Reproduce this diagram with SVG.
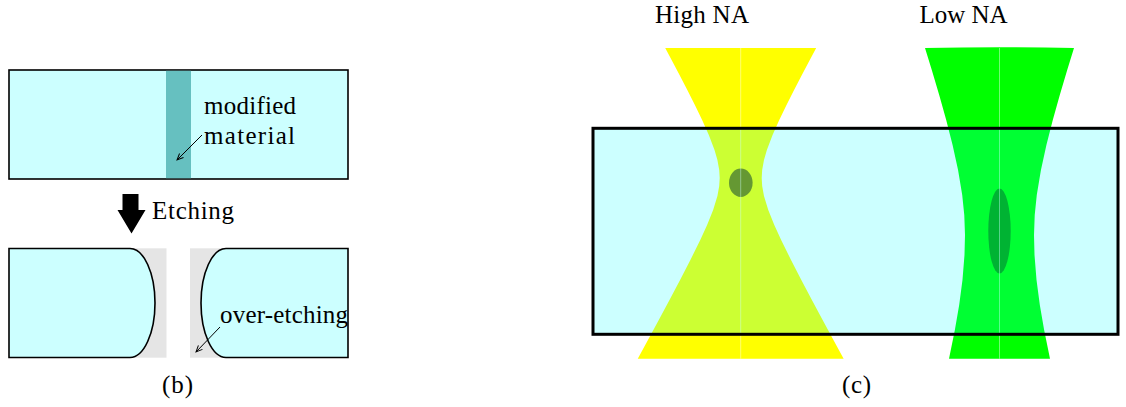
<svg xmlns="http://www.w3.org/2000/svg" width="1126" height="407" viewBox="0 0 1126 407">
<style>
text{font-family:"Liberation Serif","DejaVu Serif",serif;font-size:25px;fill:#000}
.mat{fill:#ccffff;stroke:#000;stroke-width:1.6}
.gray{fill:#e5e5e5}
.thin{stroke:#000;stroke-width:1;fill:none;marker-end:url(#ah)}
.axis{stroke:#ffffff;stroke-opacity:0.55;stroke-width:0.8}
</style>
<defs>
<marker id="ah" viewBox="0 0 10 10" refX="9" refY="5" markerWidth="8" markerHeight="8" markerUnits="userSpaceOnUse" orient="auto">
<path d="M1,1.5 L9,5 L1,8.5" fill="none" stroke="#000" stroke-width="1.2"/>
</marker>
</defs>

<g id="panel-b-top">
<rect class="mat" x="9" y="70" width="339" height="109"/>
<rect x="166" y="70.8" width="25" height="107.4" fill="#66c0c0"/>
<text x="204" y="114" textLength="92" lengthAdjust="spacing">modified</text>
<text x="204" y="143.5" textLength="91" lengthAdjust="spacing">material</text>
</g>

<g id="etching">
<polygon points="122.5,194 138.5,194 138.5,210 145.5,210 131.5,233.5 117.5,210 122.5,210" fill="#000"/>
<text x="152" y="219" textLength="82" lengthAdjust="spacing">Etching</text>
</g>

<g id="panel-b-bottom">
<rect class="gray" x="9" y="248.3" width="157.5" height="109.4"/>
<rect class="gray" x="190" y="248.3" width="158" height="109.4"/>
<path class="mat" d="M9,248.5 H130 A25,54.5 0 0 1 130,357.5 H9 Z"/>
<path class="mat" d="M348,248.5 H226 A25,54.5 0 0 0 226,357.5 H348 Z"/>
<text x="220" y="323" textLength="128" lengthAdjust="spacing">over-etching</text>
<text x="162" y="393" textLength="31" lengthAdjust="spacing">(b)</text>
</g>

<g id="connectors">
<line class="thin" x1="202" y1="135" x2="177" y2="160"/>
<line class="thin" x1="220" y1="327" x2="196" y2="352"/>
</g>

<g id="high-na-beam">
<path fill="#ffff00" d="M665.22,48 L671.62,60 679.54,75 687.32,90 694.89,105 702.14,120 708.83,135 714.53,150 717.42,160 719.23,170 719.7,178 719.23,186 717.42,196 713.14,210 707.11,225 700.25,240 690.38,260 680.07,280 669.5,300 658.77,320 647.95,340 637.76,358.7 L843.64,358.7 833.45,340 822.63,320 811.9,300 801.33,280 791.02,260 781.15,240 774.29,225 768.26,210 763.98,196 762.17,186 761.7,178 762.17,170 763.98,160 766.87,150 772.57,135 779.26,120 786.51,105 794.08,90 801.86,75 809.78,60 816.18,48 Z"/>
<ellipse cx="740.8" cy="182.7" rx="11.8" ry="14.2" fill="#7f7f00"/>
<line class="axis" x1="740.7" y1="48" x2="740.7" y2="358.7"/>
<text x="655" y="23" textLength="94" lengthAdjust="spacing">High NA</text>
</g>

<g id="low-na-beam">
<path fill="#00ff00" d="M925,48 L931.79,70 939.21,95 946.21,120 952.59,145 958.06,170 962.22,195 964.28,215 965,235 964.49,255 962.48,280 959.18,305 954.86,330 949,358.7 L1050,358.7 1044.14,330 1039.82,305 1036.52,280 1034.51,255 1034,235 1034.72,215 1036.78,195 1040.94,170 1046.41,145 1052.79,120 1059.79,95 1067.21,70 1074,48 Q999.5,46.5 925,48 Z"/>
<ellipse cx="999.5" cy="231" rx="11.2" ry="42.5" fill="#00a000"/>
<line class="axis" x1="999.5" y1="48" x2="999.5" y2="358.7"/>
<text x="919.5" y="23" textLength="88" lengthAdjust="spacing">Low NA</text>
</g>

<g id="substrate">
<rect x="593" y="128.3" width="525" height="206" fill="#00ffff" fill-opacity="0.2" stroke="#000" stroke-width="3"/>
<text x="842" y="393" textLength="29" lengthAdjust="spacing">(c)</text>
</g>
</svg>
